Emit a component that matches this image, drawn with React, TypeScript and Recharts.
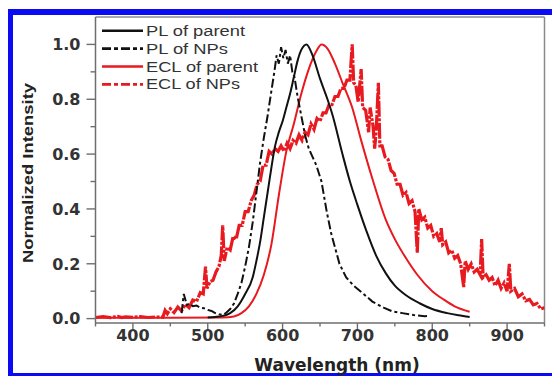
import React from 'react';
import { LineChart, Line, XAxis, YAxis, ReferenceLine } from 'recharts';

// [wavelength nm, normalized intensity]
const PL_PARENT: [number, number][] = [
  [500, 0.004], [510, 0.006], [520, 0.01], [530, 0.02], [540, 0.045], [550, 0.09], [560, 0.15],
  [565, 0.21], [570, 0.28], [575, 0.37], [580, 0.46], [585, 0.55], [590, 0.63], [595, 0.68],
  [600, 0.72], [605, 0.77], [610, 0.82], [615, 0.88], [620, 0.94], [625, 0.98], [632, 1.0],
  [640, 0.96], [650, 0.875], [660, 0.8], [667, 0.74], [680, 0.6], [690, 0.5], [700, 0.415],
  [712, 0.32], [725, 0.23], [738, 0.165], [750, 0.12], [765, 0.085], [783, 0.056], [800, 0.035],
  [820, 0.02], [835, 0.012], [850, 0.006],
];

const PL_NPS: [number, number][] = [
  [465, 0.02], [468, 0.09], [470, 0.07], [472, 0.05], [476, 0.055], [480, 0.045], [485, 0.048],
  [490, 0.04], [495, 0.038], [500, 0.032], [505, 0.028], [510, 0.02], [515, 0.016], [520, 0.013],
  [525, 0.022], [530, 0.035], [535, 0.055], [540, 0.09], [545, 0.13], [550, 0.19], [555, 0.26],
  [560, 0.35], [565, 0.46], [570, 0.57], [575, 0.66], [580, 0.74], [585, 0.83], [589, 0.9],
  [592, 0.96], [595, 0.93], [598, 0.99], [601, 0.95], [604, 0.98], [607, 0.93], [610, 0.96],
  [613, 0.9], [616, 0.88], [620, 0.81], [625, 0.74], [630, 0.67], [635, 0.62], [640, 0.59],
  [645, 0.56], [652, 0.5], [659, 0.39], [665, 0.31], [670, 0.26], [676, 0.2], [685, 0.15],
  [695, 0.12], [707, 0.093], [720, 0.062], [735, 0.04], [747, 0.026], [760, 0.02], [775, 0.013],
  [790, 0.009], [797, 0.011],
];

const ECL_PARENT: [number, number][] = [
  [350, 0.003], [400, 0.003], [450, 0.003], [520, 0.004], [535, 0.008], [545, 0.02], [555, 0.045],
  [565, 0.09], [575, 0.16], [585, 0.27], [595, 0.45], [605, 0.61], [615, 0.71], [625, 0.82],
  [635, 0.91], [645, 0.975], [652, 1.0], [660, 0.985], [670, 0.93], [680, 0.86], [693, 0.77],
  [705, 0.65], [720, 0.51], [738, 0.36], [750, 0.29], [765, 0.22], [780, 0.16], [800, 0.1],
  [815, 0.07], [830, 0.045], [850, 0.025],
];

const ECL_NPS: [number, number][] = [
  [350, 0.004], [360, 0.007], [370, 0.004], [380, 0.008], [385, 0.004], [390, 0.006], [400, 0.005],
  [410, 0.007], [420, 0.004], [430, 0.006], [440, 0.005], [443, 0.03], [446, 0.018], [450, 0.036],
  [455, 0.022], [460, 0.042], [465, 0.028], [470, 0.052], [475, 0.04], [480, 0.068], [485, 0.062],
  [490, 0.095], [494, 0.09], [497, 0.19], [499, 0.11], [503, 0.135], [507, 0.14], [511, 0.17],
  [515, 0.19], [518, 0.23], [520, 0.34], [522, 0.21], [526, 0.26], [530, 0.25], [534, 0.3],
  [538, 0.29], [542, 0.34], [546, 0.34], [550, 0.39], [554, 0.39], [558, 0.43], [562, 0.45],
  [566, 0.49], [570, 0.5], [574, 0.56], [578, 0.56], [582, 0.61], [586, 0.6], [590, 0.62],
  [594, 0.61], [598, 0.63], [602, 0.61], [606, 0.64], [610, 0.62], [614, 0.65], [618, 0.64],
  [622, 0.67], [626, 0.65], [630, 0.68], [634, 0.67], [638, 0.71], [642, 0.69], [646, 0.73],
  [650, 0.72], [654, 0.75], [658, 0.75], [662, 0.78], [666, 0.78], [670, 0.81], [674, 0.81],
  [678, 0.84], [682, 0.84], [686, 0.87], [690, 0.87], [693, 1.0], [695, 0.86], [698, 0.85],
  [701, 0.79], [705, 0.91], [707, 0.77], [711, 0.76], [715, 0.68], [717, 0.77], [721, 0.7],
  [723, 0.62], [725, 0.68], [728, 0.86], [730, 0.63], [733, 0.63], [737, 0.59], [741, 0.58],
  [745, 0.54], [749, 0.53], [753, 0.49], [757, 0.49], [761, 0.45], [765, 0.46], [769, 0.42],
  [773, 0.43], [777, 0.39], [780, 0.24], [782, 0.4], [786, 0.36], [790, 0.37], [794, 0.33],
  [798, 0.34], [802, 0.3], [806, 0.31], [810, 0.28], [812, 0.33], [814, 0.27], [818, 0.28],
  [822, 0.24], [826, 0.25], [830, 0.22], [834, 0.23], [838, 0.2], [842, 0.115], [844, 0.21],
  [848, 0.18], [852, 0.2], [856, 0.17], [860, 0.18], [864, 0.16], [866, 0.29], [868, 0.15],
  [872, 0.16], [876, 0.14], [880, 0.15], [884, 0.12], [888, 0.14], [892, 0.11], [896, 0.13],
  [900, 0.1], [903, 0.2], [905, 0.1], [910, 0.11], [915, 0.08], [920, 0.09], [925, 0.065],
  [930, 0.07], [935, 0.05], [940, 0.055], [945, 0.035], [950, 0.04],
];

const X_TICKS = [350, 400, 450, 500, 550, 600, 650, 700, 750, 800, 850, 900, 950];
const Y_TICKS = [0, 0.1, 0.2, 0.3, 0.4, 0.5, 0.6, 0.7, 0.8, 0.9, 1.0];

const LEGEND = [
  { name: 'PL of parent', color: '#111', dash: undefined, width: 99 },
  { name: 'PL of NPs', color: '#111', dash: '9 3 4 3', width: 82 },
  { name: 'ECL of parent', color: '#e8191f', dash: undefined, width: 112 },
  { name: 'ECL of NPs', color: '#e8191f', dash: '9 3 4 3', width: 94 },
];

const toRows = (pts: [number, number][]) => pts.map(([w, v]) => ({ w, v }));

const AXIS = '#6e6e6e';
const TICK_FONT = '"DejaVu Sans", sans-serif';
const RED = '#e8191f';
const BLUE = '#0a0af5';

const XTick = (props: any) => {
  const { x, y, payload } = props;
  const v = payload.value;
  const major = v % 100 === 0;
  return (
    <g>
      <line x1={x} x2={x} y1={y} y2={y + (major ? 6 : 3.5)} stroke={AXIS} strokeWidth={1.4} />
      {major && (
        <text x={x} y={y + 17.5} textAnchor="middle" fontFamily={TICK_FONT} fontWeight="bold" fontSize={16} fill="#333">
          {v}
        </text>
      )}
    </g>
  );
};

const YTick = (props: any) => {
  const { x, y, payload } = props;
  const v = payload.value;
  const major = Math.round(v * 10) % 2 === 0;
  return (
    <g>
      <line x1={x - (major ? 9 : 5)} x2={x} y1={y} y2={y} stroke={AXIS} strokeWidth={1.4} />
      {major && (
        <text x={x - 15} y={y} dy="0.36em" textAnchor="end" fontFamily={TICK_FONT} fontWeight="bold" fontSize={16} fill="#333">
          {v.toFixed(1)}
        </text>
      )}
    </g>
  );
};

export default function App() {
  return (
    <div style={{ position: 'fixed', left: 0, top: 0, width: 552, height: 376, background: '#fff', overflow: 'hidden' }}>
      {/* blue frame (left, top, bottom) */}
      <div style={{ position: 'absolute', left: 8, top: 9, width: 544, height: 6, background: BLUE }} />
      <div style={{ position: 'absolute', left: 8, top: 9, width: 5, height: 367, background: BLUE }} />
      <div style={{ position: 'absolute', left: 8, top: 373, width: 544, height: 3, background: BLUE }} />

      <div style={{ position: 'absolute', left: 8, top: 8 }}>
        <LineChart width={544} height={368} margin={{ top: 9, right: 7.5, bottom: 0, left: 0 }}>
          <XAxis
            dataKey="w"
            type="number"
            domain={[350, 950]}
            ticks={X_TICKS}
            interval={0}
            tickSize={0}
            tickMargin={0}
            tickLine={false}
            tick={<XTick />}
            height={53}
            axisLine={{ stroke: AXIS, strokeWidth: 1.5 }}
            allowDataOverflow
            label={{
              content: () => (
                <text x={329} y={362.5} textAnchor="middle" fontFamily={TICK_FONT} fontWeight="bold" fontSize={17} fill="#222">
                  Wavelength (nm)
                </text>
              ),
            }}
          />
          <YAxis
            type="number"
            domain={[-0.016, 1.1]}
            ticks={Y_TICKS}
            interval={0}
            tickSize={0}
            tickMargin={0}
            tickLine={false}
            tick={<YTick />}
            width={87.5}
            axisLine={{ stroke: AXIS, strokeWidth: 1.5 }}
            allowDataOverflow
            label={{
              content: () => (
                <text
                  x={25}
                  y={165}
                  transform="rotate(-90, 25, 165)"
                  textAnchor="middle"
                  fontFamily='"Liberation Sans", Arial, sans-serif'
                  fontWeight="bold"
                  fontSize={14.5}
                  textLength={180}
                  lengthAdjust="spacingAndGlyphs"
                  fill="#222"
                >
                  Normalized Intensity
                </text>
              ),
            }}
          />
          <ReferenceLine y={1.1} stroke="#8a8a8a" strokeWidth={1.5} />
          <ReferenceLine x={950} stroke="#8a8a8a" strokeWidth={1.5} />

          <Line data={toRows(ECL_NPS)} dataKey="v" type="linear" stroke={RED} strokeWidth={3.2}
            strokeDasharray="16 1.5 3 1.5" dot={false} isAnimationActive={false} />
          <Line data={toRows(ECL_PARENT)} dataKey="v" type="monotone" stroke={RED} strokeWidth={2}
            dot={false} isAnimationActive={false} />
          <Line data={toRows(PL_NPS)} dataKey="v" type="linear" stroke="#111" strokeWidth={2}
            strokeDasharray="9 3 3 3" dot={false} isAnimationActive={false} />
          <Line data={toRows(PL_PARENT)} dataKey="v" type="monotone" stroke="#111" strokeWidth={2}
            dot={false} isAnimationActive={false} />
        </LineChart>
      </div>

      {/* legend */}
      <svg style={{ position: 'absolute', left: 0, top: 0 }} width={552} height={120}>
        {LEGEND.map((item, i) => {
          const cy = 30.7 + i * 17.9;
          return (
            <g key={item.name}>
              <line x1={102} x2={143} y1={cy} y2={cy} stroke={item.color} strokeWidth={2.6} strokeDasharray={item.dash} />
              <text x={146} y={cy + 5} fontFamily='"Liberation Sans", Arial, sans-serif' fontSize={14}
                textLength={item.width} lengthAdjust="spacingAndGlyphs" fill="#333">
                {item.name}
              </text>
            </g>
          );
        })}
      </svg>
    </div>
  );
}
